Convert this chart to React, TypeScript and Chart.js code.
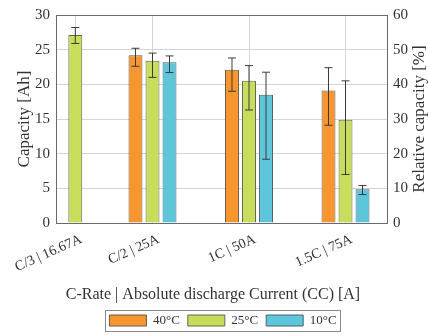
import React, { useEffect, useRef } from "react";
import { Chart, registerables } from "chart.js";

Chart.register(...registerables);

const categories = ["C/3 | 16.67A", "C/2 | 25A", "1C | 50A", "1.5C | 75A"];
const xPositions = [0.2, 1, 2, 3];

const seriesNames = ["40°C", "25°C", "10°C"];
const cap40 = [null, 24.2, 22.1, 19.1];
const cap25 = [27.1, 23.4, 20.5, 14.9];
const cap10 = [null, 23.2, 18.5, 4.85];

const err40Hi = [null, 25.2, 23.8, 22.4];
const err40Lo = [null, 22.6, 19.0, 14.1];
const err25Hi = [28.2, 24.5, 22.7, 20.5];
const err25Lo = [25.9, 21.0, 16.3, 7.0];
const err10Hi = [null, 24.1, 21.75, 5.4];
const err10Lo = [null, 21.7, 9.2, 4.1];

const leftTicks = [0, 5, 10, 15, 20, 25, 30];
const rightTicks = [0, 10, 20, 30, 40, 50, 60];

const fillColors = ["#F7952F", "#C8DD5C", "#5DC6DB"];
const borderColors = ["#6b5a48", "#5f6650", "#4d6268"];

const FONT = "'Liberation Serif', 'Times New Roman', serif";
const rightTitle = "Relative capacity [%]";
const xTitle = "C-Rate | Absolute discharge Current (CC) [A]";

const errHi = [err40Hi, err25Hi, err10Hi];
const errLo = [err40Lo, err25Lo, err10Lo];

const errorBarPlugin = {
  id: "errorBars",
  afterDatasetsDraw(chart: any) {
    const ctx = chart.ctx;
    const ys = chart.scales.y;
    chart.data.datasets.forEach((_ds: any, di: number) => {
      const meta = chart.getDatasetMeta(di);
      meta.data.forEach((bar: any, i: number) => {
        const hi = errHi[di][i];
        const lo = errLo[di][i];
        if (hi == null || lo == null) return;
        const x = bar.x;
        const yh = ys.getPixelForValue(hi);
        const yl = ys.getPixelForValue(lo);
        ctx.save();
        ctx.strokeStyle = "#3a3a3a";
        ctx.lineWidth = 1;
        ctx.beginPath();
        ctx.moveTo(x, yh);
        ctx.lineTo(x, yl);
        ctx.moveTo(x - 4, yh);
        ctx.lineTo(x + 4, yh);
        ctx.moveTo(x - 4, yl);
        ctx.lineTo(x + 4, yl);
        ctx.stroke();
        ctx.restore();
      });
    });
  },
};

const boxPlugin = {
  id: "frameBox",
  afterLayout(chart: any) {
    const lg = chart.legend;
    if (lg) {
      lg.left += 9;
      lg.right += 9;
      lg.top += 2;
      lg.bottom += 2;
    }
  },
  afterDraw(chart: any) {
    const ctx = chart.ctx;
    const a = chart.chartArea;
    ctx.save();
    ctx.strokeStyle = "#6a6a6a";
    ctx.lineWidth = 1;
    ctx.strokeRect(Math.round(a.left) + 0.5, Math.round(a.top) + 0.5, Math.round(a.right - a.left), Math.round(a.bottom - a.top));
    const lg = chart.legend;
    if (lg && lg.legendHitBoxes && lg.legendHitBoxes.length) {
      let l = Infinity, r = -Infinity, t = Infinity, b = -Infinity;
      lg.legendHitBoxes.forEach((h: any) => {
        l = Math.min(l, h.left);
        r = Math.max(r, h.left + h.width);
        t = Math.min(t, h.top);
        b = Math.max(b, h.top + h.height);
      });
      ctx.strokeStyle = "#8a8a8a";
      ctx.strokeRect(Math.round(l - 4) + 0.5, Math.round(t - 4) + 0.5, Math.round(r - l + 8), Math.round(b - t + 8));
    }
    // x axis title, centred on the figure
    const xs = chart.scales.x;
    ctx.fillStyle = "#333";
    ctx.font = "16px " + FONT;
    ctx.textAlign = "center";
    ctx.textBaseline = "middle";
    ctx.fillText(xTitle, chart.width / 2 - 1, xs.bottom - 9);
    // right axis title, reading bottom-to-top
    const y1 = chart.scales.y1;
    ctx.translate(y1.right - 8, (a.top + a.bottom) / 2);
    ctx.rotate(-Math.PI / 2);
    ctx.font = "17px " + FONT;
    ctx.fillText(rightTitle, 0, 0);
    ctx.restore();
  },
};

export default function App() {
  const ref = useRef<HTMLCanvasElement | null>(null);

  useEffect(() => {
    if (!ref.current) return;
    const series = [cap40, cap25, cap10];
    const chart = new Chart(ref.current, {
      type: "bar",
      data: {
        datasets: series.map((vals, di) => ({
          label: seriesNames[di],
          data: xPositions.map((x, i) => ({ x, y: vals[i] })) as any,
          backgroundColor: fillColors[di],
          borderColor: borderColors[di],
          borderWidth: 1,
          categoryPercentage: 0.661,
          barPercentage: 0.82,
          yAxisID: "y",
        })),
      },
      options: {
        animation: false,
        responsive: true,
        maintainAspectRatio: false,
        layout: { padding: { top: 12, bottom: 0, left: 0, right: 0 } },
        plugins: {
          tooltip: { enabled: false },
          legend: {
            position: "bottom",
            labels: {
              boxWidth: 37,
              boxHeight: 11,
              padding: 8,
              color: "#333",
              font: { family: FONT, size: 13 },
            },
          },
        },
        scales: {
          x: {
            type: "linear",
            min: 0,
            max: 3.43,
            offset: false,
            grid: { offset: false, color: "#d4d4d4", drawTicks: false },
            border: { display: false },
            afterBuildTicks: (s: any) => {
              s.ticks = xPositions.map((v) => ({ value: v }));
            },
            afterFit: (s: any) => {
              s.height = 81;
              s.paddingLeft = 0;
              s.paddingRight = 0;
            },
            ticks: {
              autoSkip: false,
              minRotation: 24,
              maxRotation: 24,
              padding: 8,
              labelOffset: 6,
              color: "#333",
              font: { family: FONT, size: 14 },
              callback: (v: any) => {
                const idx = xPositions.indexOf(Number(v));
                return idx >= 0 ? categories[idx] : "";
              },
            },
            title: { display: false },
          },
          y: {
            type: "linear",
            position: "left",
            min: 0,
            max: 30,
            afterBuildTicks: (s: any) => {
              s.ticks = leftTicks.map((v) => ({ value: v }));
            },
            afterFit: (s: any) => {
              s.width = 56;
            },
            grid: { color: "#d4d4d4", drawTicks: false },
            border: { display: false },
            ticks: { padding: 6, color: "#333", font: { family: FONT, size: 15 } },
            title: {
              display: true,
              text: "Capacity [Ah]",
              color: "#333",
              font: { family: FONT, size: 17 },
              padding: { top: 14, bottom: 2 },
            },
          },
          y1: {
            type: "linear",
            position: "right",
            min: 0,
            max: 60,
            afterBuildTicks: (s: any) => {
              s.ticks = rightTicks.map((v) => ({ value: v }));
            },
            afterFit: (s: any) => {
              s.width = 41;
            },
            grid: { display: false, drawTicks: false },
            border: { display: false },
            ticks: { padding: 6, color: "#333", font: { family: FONT, size: 15 } },
            title: { display: false },
          },
        },
      } as any,
      plugins: [errorBarPlugin, boxPlugin],
    });
    return () => chart.destroy();
  }, []);

  return (
    <div style={{ position: "fixed", left: 0, top: 0, width: 428, height: 335, background: "#fff" }}>
      <canvas ref={ref} />
    </div>
  );
}
